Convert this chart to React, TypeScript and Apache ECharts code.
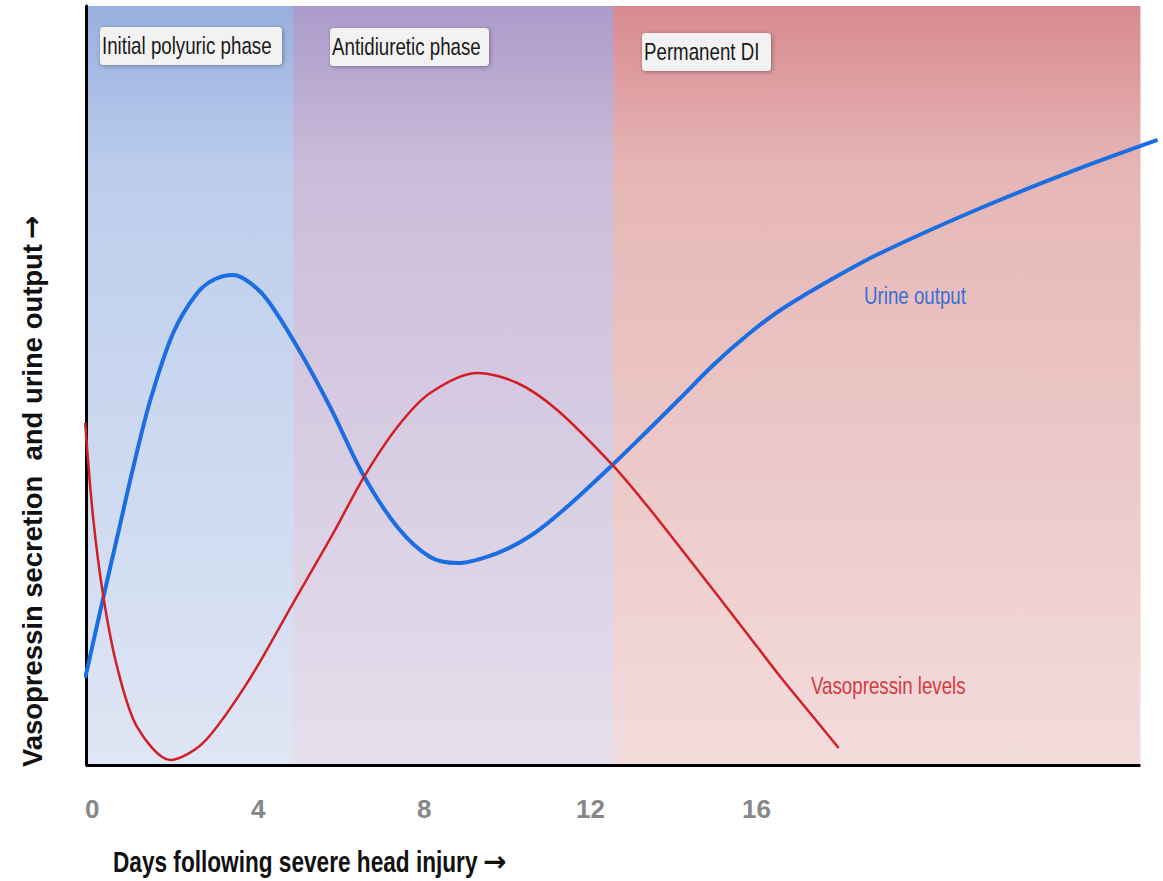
import React, { useEffect, useRef } from "react";
import * as echarts from "echarts";

// Days after injury (x) and relative level (y, 0-100)
const urineDays = [-0.17, 0.27, 0.63, 0.99, 1.4, 1.95, 2.53, 2.96, 3.4, 3.81, 4.22, 4.94, 5.73, 6.53, 7.35, 8.14, 8.8, 9.76, 10.55, 11.35, 12.53, 13.37, 14.17, 14.96, 15.78, 16.58, 17.78, 18.99, 21.4, 23.81, 25.66];
const urineValues = [11.46, 22.13, 30.7, 39.26, 48.09, 56.92, 62.19, 64.03, 64.56, 63.5, 61.26, 55.07, 47.17, 38.21, 31.36, 27.4, 26.61, 27.93, 30.17, 33.6, 39.53, 44.01, 48.35, 52.7, 56.65, 59.95, 63.9, 67.46, 73.39, 78.66, 82.35];

const vasoDays = [-0.17, 0.02, 0.27, 0.6, 1.08, 1.88, 2.67, 3.73, 4.84, 5.81, 6.53, 7.35, 8.14, 9.28, 10.24, 11.2, 12.53, 13.37, 14.17, 14.96, 15.78, 16.58, 17.37, 17.98];
const vasoValues = [45.06, 32.67, 22.13, 12.91, 5.01, 0.66, 2.9, 10.8, 21.34, 30.57, 37.81, 44.53, 49.01, 51.65, 50.33, 46.77, 39.53, 34.12, 28.59, 23.06, 17.26, 11.59, 6.32, 2.24];

const xTickLabels = [0, 4, 8, 12, 16];
const axisStart = -0.15;
const axisEnd = 25.25;

const phaseNames = ["Initial polyuric phase", "Antidiuretic phase", "Permanent DI"];
const phaseStarts = [-0.15, 4.84, 12.55];
const phaseEnds = [4.87, 12.58, 25.25];

const SANS = "'Liberation Sans', Arial, sans-serif";
const SQUEEZE = 0.78;

const phaseColors = [
  ["#98afdf", "#bccdec", "#dfe6f4"],
  ["#ab9bca", "#cbbdda", "#e5dfec"],
  ["#d88a8f", "#e6b6b6", "#f3dcdc"],
];

function grad(c: string[]) {
  return new echarts.graphic.LinearGradient(0, 0, 0, 1, [
    { offset: 0, color: c[0] },
    { offset: 0.22, color: c[1] },
    { offset: 1, color: c[2] },
  ]);
}

function phaseBox(text: string, x: number, y: number, w: number) {
  return {
    type: "group",
    x,
    y,
    z: 100,
    children: [
      {
        type: "rect",
        z: 100,
        shape: { x: 0, y: 0, width: w, height: 38, r: 4 },
        style: { fill: "#f3f2f2", shadowBlur: 4, shadowColor: "rgba(0,0,0,0.35)", shadowOffsetX: 1, shadowOffsetY: 1 },
      },
      {
        type: "text",
        z: 101,
        x: 2,
        y: 19,
        scaleX: SQUEEZE,
        style: { text, fill: "#1a1a1a", font: `24px ${SANS}`, textVerticalAlign: "middle" },
      },
    ],
  };
}

export default function App() {
  const ref = useRef<HTMLDivElement>(null);
  useEffect(() => {
    if (!ref.current) return;
    const chart = echarts.init(ref.current, null, { renderer: "svg" });
    chart.setOption({
      animation: false,
      backgroundColor: "#ffffff",
      grid: { left: 86, top: 6, right: 3, bottom: 116 },
      xAxis: {
        type: "value",
        min: axisStart,
        max: 25.72,
        axisLine: { show: false },
        axisTick: { show: false },
        splitLine: { show: false },
        axisLabel: {
          customValues: xTickLabels,
          color: "#878787",
          fontWeight: "bold",
          fontSize: 26,
          fontFamily: SANS,
          margin: 31,
        },
      },
      yAxis: {
        type: "value",
        min: 0,
        max: 100,
        axisLine: { show: true, onZero: false, lineStyle: { color: "#000", width: 3 } },
        axisTick: { show: false },
        axisLabel: { show: false },
        splitLine: { show: false },
      },
      series: [
        {
          name: "Urine output",
          type: "line",
          smooth: 0.3,
          symbol: "none",
          z: 3,
          lineStyle: { color: "#1b6de2", width: 4 },
          data: urineDays.map((d, i) => [d, urineValues[i]]),
          markArea: {
            silent: true,
            z: 0,
            data: phaseNames.map((n, i) => [
              { xAxis: phaseStarts[i], itemStyle: { color: grad(phaseColors[i]) } },
              { xAxis: phaseEnds[i] },
            ]),
          },
        },
        {
          name: "Vasopressin levels",
          type: "line",
          smooth: 0.3,
          symbol: "none",
          z: 4,
          lineStyle: { color: "#d21f26", width: 2.5 },
          data: vasoDays.map((d, i) => [d, vasoValues[i]]),
          markLine: {
            silent: true,
            symbol: ["none", "none"],
            label: { show: false },
            lineStyle: { color: "#000", width: 3, type: "solid" },
            data: [[{ coord: [axisStart, 0] }, { coord: [axisEnd, 0] }]],
          },
        },
      ],
      graphic: [
        phaseBox(phaseNames[0], 100, 27, 182),
        phaseBox(phaseNames[1], 330, 28, 159),
        phaseBox(phaseNames[2], 642, 33, 129),
        {
          type: "text",
          z: 100,
          x: 864,
          y: 296,
          scaleX: SQUEEZE,
          style: { text: "Urine output", fill: "#3a6fd4", font: `24px ${SANS}`, textVerticalAlign: "middle" },
        },
        {
          type: "text",
          z: 100,
          x: 811,
          y: 686,
          scaleX: SQUEEZE,
          style: { text: "Vasopressin levels", fill: "#d53a3f", font: `24px ${SANS}`, textVerticalAlign: "middle" },
        },
        {
          type: "text",
          z: 100,
          x: 113,
          y: 862,
          scaleX: SQUEEZE,
          style: { text: "Days following severe head injury", fill: "#111", font: `bold 29px ${SANS}`, textVerticalAlign: "middle" },
        },
        {
          type: "text",
          z: 100,
          x: 483,
          y: 861,
          style: { text: "\u2192", fill: "#111", font: "bold 28px 'DejaVu Sans', sans-serif", textVerticalAlign: "middle" },
        },
        {
          type: "text",
          z: 100,
          x: 32,
          y: 767,
          rotation: Math.PI / 2,
          scaleX: 0.98,
          style: { text: "Vasopressin secretion  and urine output", fill: "#111", font: `bold 28px ${SANS}`, textVerticalAlign: "middle" },
        },
        {
          type: "text",
          z: 100,
          x: 31,
          y: 239,
          rotation: Math.PI / 2,
          style: { text: "\u2192", fill: "#111", font: "bold 28px 'DejaVu Sans', sans-serif", textVerticalAlign: "middle" },
        },
      ],
    });
    return () => chart.dispose();
  }, []);
  return <div ref={ref} style={{ position: "fixed", left: 0, top: 0, width: 1163, height: 881 }} />;
}
